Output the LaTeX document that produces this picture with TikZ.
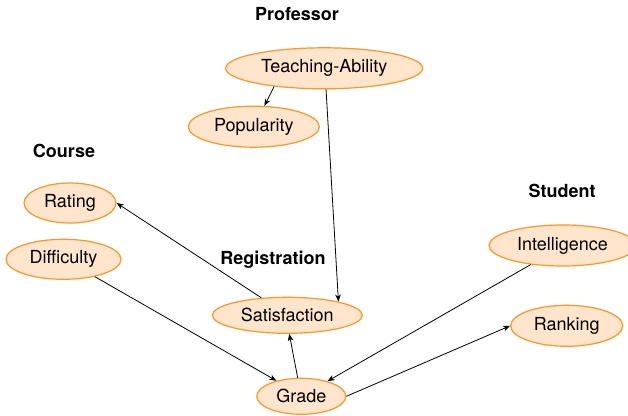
\documentclass[tikz,border=0pt]{standalone}
\usepackage{fontspec}
\setmainfont{TeX Gyre Heros}
\usetikzlibrary{shapes.geometric,arrows.meta}
\definecolor{nodefill}{RGB}{255,229,204}
\definecolor{nodeline}{RGB}{255,148,40}
\begin{document}
\begin{tikzpicture}[x=1pt,y=1pt,
  var/.style={ellipse,draw=nodeline,fill=nodefill,line width=1.2pt,inner sep=0pt,
    font=\fontsize{18}{21}\selectfont},
  grouplabel/.style={font=\fontsize{18}{21}\selectfont\bfseries},
  dep/.style={-{Stealth[length=7pt,width=5.5pt,inset=2pt]},line width=0.8pt}]
\useasboundingbox (0,0) rectangle (628,415);
% attributes
\node[var,minimum width=197pt,minimum height=41pt] (ta)  at (324.2,346.7) {Teaching-Ability};
\node[var,minimum width=131pt,minimum height=41pt] (pop) at (253.8,288.3) {Popularity};
\node[var,minimum width=92pt, minimum height=40pt] (rat) at (70,212)      {Rating};
\node[var,minimum width=115pt,minimum height=40pt] (dif) at (63.5,155.7)  {Difficulty};
\node[var,minimum width=150pt,minimum height=36pt] (sat) at (287.3,99.7)  {Satisfaction};
\node[var,minimum width=89pt, minimum height=36pt] (gra) at (301.3,18.7)  {Grade};
\node[var,minimum width=147pt,minimum height=41pt] (int) at (562.5,169.5) {Intelligence};
\node[var,minimum width=112pt,minimum height=41pt] (ran) at (566.7,89.2)  {Ranking};
% class names
\node[grouplabel] (lprof) at (297,401) {Professor};
\node[grouplabel] (lcour) at (64,264)  {Course};
\node[grouplabel] (lreg)  at (273,155) {Registration};
\node[grouplabel] (lstud) at (562,224) {Student};
% dependencies
\draw[dep] (ta.200) -- (pop.63);
\draw[dep] (ta.275) -- (sat.15);
\draw[dep] (sat.146) -- (rat.0);
\draw[dep] (dif.331) -- (gra.148);
\draw[dep] (int.211) -- (gra.30);
\draw[dep] (gra.101) -- (sat.276);
\draw[dep] (gra.0) -- (ran.180);
\end{tikzpicture}
\end{document}
